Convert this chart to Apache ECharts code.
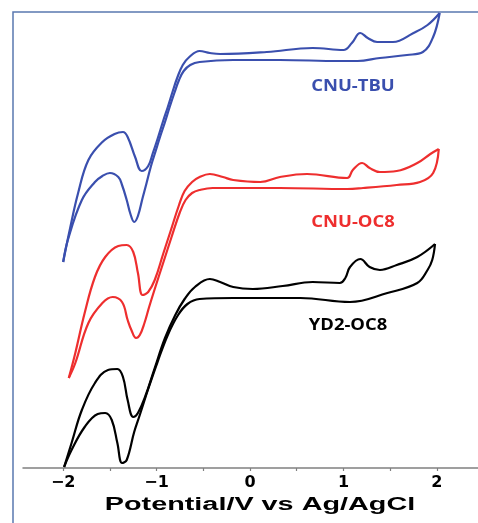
<!DOCTYPE html>
<html>
<head>
<meta charset="utf-8">
<title>Cyclic voltammograms</title>
<script src="https://cdn.jsdelivr.net/npm/echarts@6/dist/echarts.min.js"></script>
<style>
  html, body { margin: 0; padding: 0; background: #ffffff; }
  #chart { width: 478px; height: 523px; }
</style>
</head>
<body>
<div id="chart"></div>
<script>
// Potential (V vs Ag/AgCl) and current (arbitrary, stacked offsets) for each scan branch.
const tbuForward = [
  [-2.00, 20.6], [-1.93, 23.8], [-1.84, 27.5], [-1.73, 30.8], [-1.58, 32.6], [-1.45, 33.4],
  [-1.36, 33.6], [-1.31, 33.1], [-1.23, 31.1], [-1.16, 29.7], [-1.09, 30.2], [-1.04, 31.5],
  [-0.99, 32.9], [-0.93, 34.7], [-0.88, 36.1], [-0.83, 37.6], [-0.78, 39.0], [-0.72, 40.3],
  [-0.65, 41.1], [-0.54, 41.7], [-0.43, 41.5], [-0.32, 41.4], [0.18, 41.6], [0.67, 42.0],
  [1.00, 41.8], [1.09, 42.5], [1.18, 43.5], [1.26, 43.0], [1.36, 42.6], [1.53, 42.6],
  [1.75, 43.5], [1.90, 44.3], [2.03, 45.5]
];
const tbuReverse = [
  [2.03, 45.5], [1.96, 43.1], [1.85, 41.6], [1.68, 41.3], [1.39, 41.0], [1.15, 40.7],
  [0.96, 40.7], [0.32, 40.8], [-0.18, 40.8], [-0.54, 40.6], [-0.64, 40.3], [-0.71, 39.7],
  [-0.76, 38.8], [-0.81, 37.5], [-0.86, 36.1], [-0.91, 34.6], [-0.96, 33.2], [-1.01, 31.7],
  [-1.06, 30.2], [-1.11, 28.4], [-1.15, 27.0], [-1.20, 25.2], [-1.24, 24.6], [-1.28, 25.4],
  [-1.32, 26.8], [-1.37, 28.3], [-1.41, 29.1], [-1.50, 29.5], [-1.58, 29.2], [-1.66, 28.6],
  [-1.80, 26.8], [-1.95, 22.8], [-2.00, 20.6]
];
const oc8Forward = [
  [-1.94, 9.0], [-1.87, 11.5], [-1.77, 15.5], [-1.66, 19.1], [-1.55, 21.1], [-1.41, 22.2],
  [-1.32, 22.3], [-1.25, 21.6], [-1.20, 19.5], [-1.15, 17.3], [-1.09, 17.6], [-1.02, 18.8],
  [-0.93, 21.4], [-0.85, 23.7], [-0.76, 26.3], [-0.70, 27.7], [-0.62, 28.6], [-0.54, 29.1],
  [-0.43, 29.4], [-0.29, 29.1], [-0.18, 28.8], [0.11, 28.6], [0.32, 29.1], [0.61, 29.4],
  [1.04, 29.0], [1.10, 29.8], [1.20, 30.5], [1.28, 30.0], [1.39, 29.6], [1.57, 29.7],
  [1.79, 30.5], [1.93, 31.4], [2.02, 31.9]
];
const oc8Reverse = [
  [2.02, 31.9], [1.96, 29.5], [1.82, 28.6], [1.57, 28.3], [1.21, 28.0], [1.04, 27.9],
  [0.32, 28.0], [-0.40, 28.0], [-0.54, 27.8], [-0.62, 27.5], [-0.69, 26.8], [-0.75, 25.6],
  [-0.84, 23.1], [-0.93, 20.5], [-1.02, 17.9], [-1.08, 16.1], [-1.13, 14.5], [-1.18, 13.3],
  [-1.22, 13.0], [-1.27, 13.8], [-1.31, 14.8], [-1.37, 16.6], [-1.47, 17.1], [-1.58, 16.5],
  [-1.73, 14.5], [-1.87, 10.5], [-1.94, 9.0]
];
const yd2Forward = [
  [-1.99, 0.1], [-1.91, 2.5], [-1.80, 5.8], [-1.66, 8.5], [-1.52, 9.8], [-1.42, 9.9],
  [-1.36, 9.1], [-1.31, 6.8], [-1.25, 5.1], [-1.20, 5.5], [-1.12, 7.2], [-1.02, 10.0],
  [-0.91, 13.0], [-0.80, 15.3], [-0.70, 16.9], [-0.59, 18.1], [-0.43, 18.9], [-0.32, 18.6],
  [-0.18, 18.1], [0.03, 17.9], [0.35, 18.2], [0.67, 18.6], [0.96, 18.5], [1.02, 19.0],
  [1.07, 20.1], [1.18, 20.9], [1.28, 20.1], [1.39, 19.8], [1.57, 20.3], [1.79, 21.1],
  [1.98, 22.4]
];
const yd2Reverse = [
  [1.98, 22.4], [1.95, 20.8], [1.90, 19.8], [1.79, 18.5], [1.47, 17.5], [1.07, 16.6],
  [0.54, 17.0], [-0.18, 17.0], [-0.54, 16.9], [-0.67, 16.4], [-0.77, 15.3], [-0.88, 13.3],
  [-0.99, 10.6], [-1.09, 7.9], [-1.18, 5.3], [-1.24, 3.6], [-1.32, 0.8], [-1.37, 0.5],
  [-1.42, 2.5], [-1.48, 4.8], [-1.55, 5.5], [-1.63, 5.4], [-1.77, 4.1], [-1.91, 1.8],
  [-1.99, 0.1]
];
const tickValues = [-2, -1.5, -1, -0.5, 0, 0.5, 1, 1.5, 2];
const labelValues = [-2, -1, 0, 1, 2];
const compoundNames = ['CNU-TBU', 'CNU-OC8', 'YD2-OC8'];
const axisTitle = 'Potential/V vs Ag/AgCl';

const colors = ['#3a4fae', '#ee2e2e', '#000000'];
const branches = [
  [tbuForward, tbuReverse],
  [oc8Forward, oc8Reverse],
  [yd2Forward, yd2Reverse]
];

const series = [];
branches.forEach((pair, i) => {
  pair.forEach((data, j) => {
    series.push({
      name: compoundNames[i] + (j === 0 ? ' forward' : ' reverse'),
      type: 'line',
      data: data,
      smooth: 0.4,
      showSymbol: false,
      silent: true,
      lineStyle: { color: colors[i], width: 2.2 },
      z: 3
    });
  });
});

// Curve captions placed beside each voltammogram
const captionPos = [[353, 86], [353, 222], [348, 325]];
const captions = compoundNames.map((name, i) => ({
  type: 'text', x: captionPos[i][0], y: captionPos[i][1], scaleX: 1.15,
  style: { text: name, font: 'bold 16px "Open Sans", sans-serif', fill: colors[i], align: 'center', verticalAlign: 'middle' }
}));

const chart = echarts.init(document.getElementById('chart'), null, { renderer: 'canvas' });
chart.setOption({
  animation: false,
  backgroundColor: '#ffffff',
  grid: { left: 23, right: 0, top: 12, bottom: 55, containLabel: false },
  xAxis: {
    type: 'value',
    min: -2.43,
    max: 2.44,
    axisLine: { show: true, onZero: false, lineStyle: { color: '#808080', width: 1.5 } },
    axisTick: { show: true, customValues: tickValues, length: 3, lineStyle: { color: '#808080', width: 1.2 } },
    axisLabel: {
      customValues: labelValues,
      formatter: v => (v < 0 ? '\u2212' + Math.abs(v) : String(v)),
      fontFamily: 'DejaVu Sans',
      fontWeight: 'bold',
      fontSize: 16,
      color: '#000000',
      margin: 7
    },
    splitLine: { show: false }
  },
  yAxis: {
    type: 'value',
    min: 0,
    max: 45.6,
    show: false
  },
  graphic: [
    {
      type: 'rect',
      shape: { x: 13, y: 12, width: 520, height: 540 },
      style: { fill: 'none', stroke: '#5a78b0', lineWidth: 1.5 },
      silent: true,
      z: 1
    },
    {
      type: 'text', x: 260, y: 505, scaleX: 1.6,
      style: { text: axisTitle, font: 'bold 18px "Liberation Sans", Arial, sans-serif', fill: '#000', align: 'center', verticalAlign: 'middle' }
    }
  ].concat(captions),
  series: series
});
</script>
</body>
</html>
